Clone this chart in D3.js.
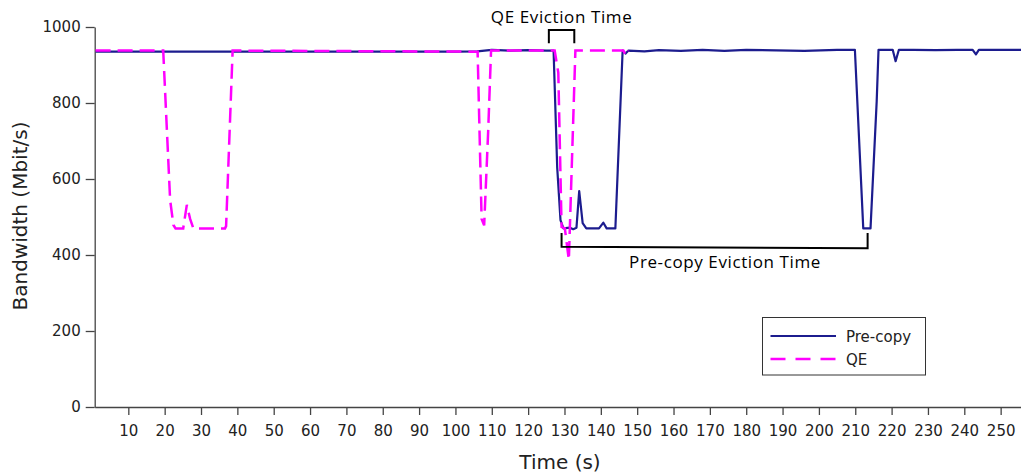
<!DOCTYPE html>
<html>
<head>
<meta charset="utf-8">
<script src="https://cdn.jsdelivr.net/npm/d3@7"></script>
<style>
  html, body { margin: 0; padding: 0; background: #fff; }
  svg { display: block; }
</style>
</head>
<body>
<svg id="chart" width="1021" height="474"></svg>
<script>
// ---- data ----
const xTicks = [10,20,30,40,50,60,70,80,90,100,110,120,130,140,150,160,170,180,190,200,210,220,230,240,250];
const yTicks = [0,200,400,600,800,1000];

const precopyTime = [1, 100, 106, 108, 110, 115, 120, 125, 127, 128, 128.9, 129.7, 131.5, 132.4, 133.3, 134.05, 135, 136, 139.5, 140.7, 141.6, 144, 146, 146.8, 147.6, 152, 156, 162, 168, 174, 180, 196, 205, 209.9, 212.2, 214.2, 215.9, 216.4, 219, 220.3, 221.1, 222, 226, 232, 238, 242.3, 243.2, 244, 250, 255.6];
const precopyBandwidth = [935, 935, 936, 938, 940, 938, 939, 938, 938, 630, 492, 470, 472, 468, 472, 568, 484, 470, 470, 485, 470, 470, 938, 930, 938, 936, 939, 937, 940, 937, 940, 937, 940, 940, 470, 470, 805, 940, 940, 940, 910, 940, 940, 939, 940, 940, 928, 940, 940, 940];

const qeTime = [1, 19.6, 21.5, 22.4, 23, 25.1, 26.1, 27, 27.9, 36.6, 36.9, 38.7, 106.1, 107.2, 107.9, 109, 109.8, 127.3, 128.3, 129.2, 130.1, 131.2, 133, 146.2, 146.9, 147.6];
const qeBandwidth = [938, 938, 545, 479, 470, 470, 532, 495, 470, 470, 476, 938, 935, 495, 478, 724, 938, 938, 880, 474, 470, 387, 938, 938, 925, 938];

const seriesNames = ["Pre-copy", "QE"];
const annotationQE = "QE Eviction Time";
const annotationPre = "Pre-copy Eviction Time";
const qeBracket = { t0: 125.7, t1: 132.7, top: 992, bottom: 957 };
const preBracket = { t0: 129.2, t1: 213.4, top: 458, bottomL: 422, bottomR: 418 };

// ---- layout ----
const svg = d3.select("#chart");
const x = d3.scaleLinear().domain([0.75, 255.6]).range([94.7, 1021]);
const y = d3.scaleLinear().domain([0, 1000]).range([407, 27]);

const tickFont = "'DejaVu Sans', sans-serif";
const annFont = "'Open Sans', sans-serif";

// axes
const xAxis = svg.append("g")
  .attr("transform", `translate(0,${y(0)})`)
  .call(d3.axisBottom(x).tickValues(xTicks).tickSize(8).tickSizeOuter(0).tickPadding(10).tickFormat(d3.format("d")));
const yAxis = svg.append("g")
  .attr("transform", `translate(${x.range()[0]},0)`)
  .call(d3.axisLeft(y).tickValues(yTicks).tickSize(9).tickSizeOuter(0).tickPadding(5).tickFormat(d3.format("d")));
[xAxis, yAxis].forEach(g => {
  g.selectAll("path.domain").attr("stroke", "#444").attr("stroke-width", 1.3);
  g.selectAll(".tick line").attr("stroke", "#444").attr("stroke-width", 1.3);
  g.selectAll(".tick text").attr("fill", "#222").style("font-family", tickFont).style("font-size", "15px");
});

// axis titles
svg.append("text")
  .attr("x", 560).attr("y", 469)
  .attr("text-anchor", "middle")
  .style("font-family", tickFont).style("font-size", "20px").attr("fill", "#222")
  .text("Time (s)");
svg.append("text")
  .attr("transform", "translate(27,216) rotate(-90)")
  .attr("text-anchor", "middle")
  .style("font-family", tickFont).style("font-size", "20px").attr("fill", "#222")
  .text("Bandwidth (Mbit/s)");

// lines
const line = d3.line().x(d => x(d[0])).y(d => y(d[1]));
const precopyData = precopyTime.map((t, i) => [t, precopyBandwidth[i]]);
const qeData = qeTime.map((t, i) => [t, qeBandwidth[i]]);

const blue = "#1c1c8e";
const magenta = "#ff00ff";

svg.append("path").datum(precopyData)
  .attr("d", line).attr("fill", "none")
  .attr("stroke", blue).attr("stroke-width", 2.2).attr("stroke-linejoin", "round");
svg.append("path").datum(qeData)
  .attr("d", line).attr("fill", "none")
  .attr("stroke", magenta).attr("stroke-width", 2.5)
  .attr("stroke-dasharray", "15,7");

// annotations
svg.append("path")
  .attr("d", `M${x(qeBracket.t0)},${y(qeBracket.bottom)}V${y(qeBracket.top)}H${x(qeBracket.t1)}V${y(qeBracket.bottom)}`)
  .attr("fill", "none").attr("stroke", "#000").attr("stroke-width", 2);
svg.append("text")
  .attr("x", (x(qeBracket.t0) + x(qeBracket.t1)) / 2).attr("y", 23)
  .attr("text-anchor", "middle")
  .style("font-family", annFont).style("font-size", "17px").style("letter-spacing", "0.6px").attr("fill", "#000")
  .text(annotationQE);

svg.append("path")
  .attr("d", `M${x(preBracket.t0)},${y(preBracket.top)}V${y(preBracket.bottomL)}L${x(preBracket.t1)},${y(preBracket.bottomR)}V${y(preBracket.top)}`)
  .attr("fill", "none").attr("stroke", "#000").attr("stroke-width", 2);
svg.append("text")
  .attr("x", 725).attr("y", 268)
  .attr("text-anchor", "middle")
  .style("font-family", annFont).style("font-size", "17px").style("letter-spacing", "0.6px").attr("fill", "#000")
  .text(annotationPre);

// legend
const lg = svg.append("g");
lg.append("rect")
  .attr("x", 762.5).attr("y", 317.5).attr("width", 163).attr("height", 57.5)
  .attr("fill", "#fff").attr("stroke", "#333").attr("stroke-width", 1);
const legendItems = [
  { name: seriesNames[0], color: blue, dash: null, w: 2, yy: 336 },
  { name: seriesNames[1], color: magenta, dash: "15,10", w: 2.5, yy: 359 }
];
legendItems.forEach(it => {
  lg.append("line")
    .attr("x1", 770.5).attr("x2", 836).attr("y1", it.yy).attr("y2", it.yy)
    .attr("stroke", it.color).attr("stroke-width", it.w)
    .attr("stroke-dasharray", it.dash);
  lg.append("text")
    .attr("x", 846).attr("y", it.yy + 5.5)
    .style("font-family", tickFont).style("font-size", "15px").attr("fill", "#222")
    .text(it.name);
});
</script>
</body>
</html>
